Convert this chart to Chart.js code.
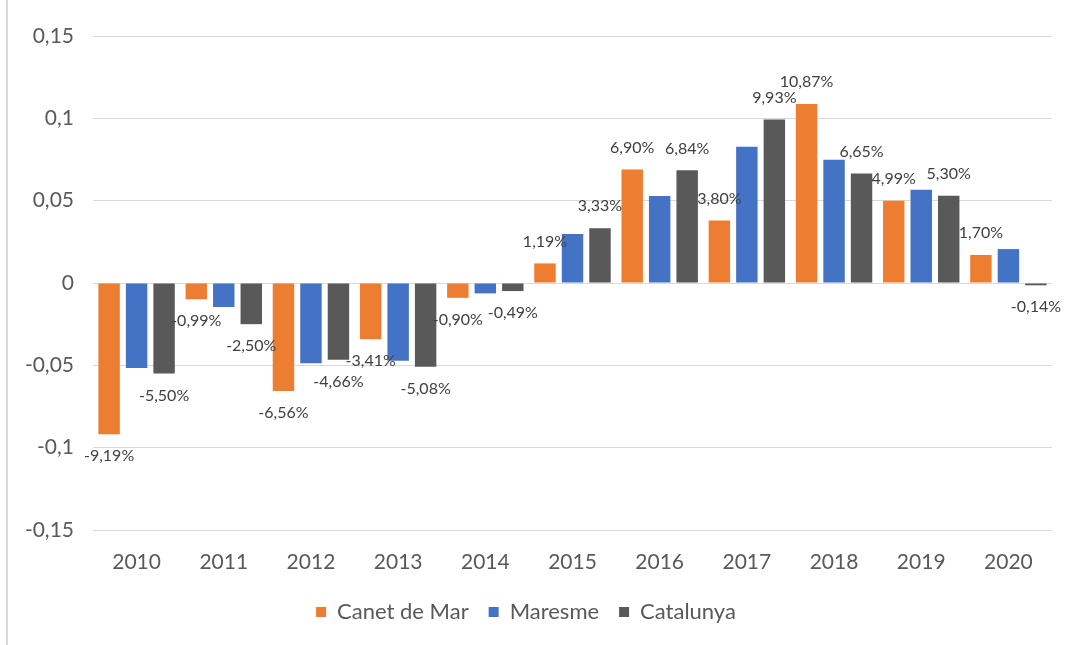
<!DOCTYPE html>
<html>
<head>
<meta charset="utf-8">
<script src="https://cdn.jsdelivr.net/npm/chart.js@4.4.1/dist/chart.umd.min.js"></script>
<style>
  html, body { margin: 0; padding: 0; background: #fff; }
  #wrap { position: relative; width: 1067px; height: 645px; }
  #edge { position: absolute; left: 6px; top: 0; width: 2px; height: 645px; background: #d9d9d9; }
  canvas { position: absolute; left: 0; top: 0; }
</style>
</head>
<body>
<div id="wrap">
  <canvas id="chart" width="1067" height="645"></canvas>
  <div id="edge"></div>
</div>
<script>
// --- data ---
const years = ['2010', '2011', '2012', '2013', '2014', '2015', '2016', '2017', '2018', '2019', '2020'];
const canet = [-0.0919, -0.0099, -0.0656, -0.0341, -0.0090, 0.0119, 0.0690, 0.0380, 0.1087, 0.0499, 0.0170];
const maresme = [-0.0516, -0.0146, -0.0488, -0.0472, -0.0063, 0.0298, 0.0529, 0.0827, 0.0749, 0.0567, 0.0206];
const catalunya = [-0.0550, -0.0250, -0.0466, -0.0508, -0.0049, 0.0333, 0.0684, 0.0993, 0.0665, 0.0530, -0.0014];
const seriesNames = ['Canet de Mar', 'Maresme', 'Catalunya'];
const labelledSeries = [0, 2]; // only these carry value labels

const FONT = 'Lato, "Open Sans", sans-serif';
const TEXT = '#595959';

function fmtPct(v) {
  return (v * 100).toFixed(2).replace('.', ',') + '%';
}

// simple value-label plugin (no datalabels lib available)
const valueLabels = {
  id: 'valueLabels',
  afterDatasetsDraw(chart) {
    const ctx = chart.ctx;
    ctx.save();
    ctx.font = '16px ' + FONT;
    ctx.fillStyle = '#404040';
    ctx.textAlign = 'center';
    ctx.textBaseline = 'middle';
    labelledSeries.forEach(di => {
      const meta = chart.getDatasetMeta(di);
      const vals = chart.data.datasets[di].data;
      meta.data.forEach((bar, i) => {
        const v = vals[i];
        const y = v >= 0 ? bar.y - 22 : bar.y + 22;
        ctx.fillText(fmtPct(v), bar.x, y);
      });
    });
    ctx.restore();
  }
};

const ctx = document.getElementById('chart').getContext('2d');
new Chart(ctx, {
  type: 'bar',
  data: {
    labels: years,
    datasets: [
      { label: seriesNames[0], data: canet, backgroundColor: '#ED7D31' },
      { label: seriesNames[1], data: maresme, backgroundColor: '#4472C4' },
      { label: seriesNames[2], data: catalunya, backgroundColor: '#595959' }
    ]
  },
  options: {
    responsive: false,
    animation: false,
    layout: { padding: { top: 36, right: 15, left: 0, bottom: 12 } },
    datasets: { bar: { categoryPercentage: 0.946, barPercentage: 0.78 } },
    scales: {
      x: {
        grid: { display: false },
        border: { display: false },
        ticks: { color: TEXT, font: { family: FONT, size: 21 }, padding: 12, maxRotation: 0 },
        afterFit(s) { s.height = 51; }
      },
      y: {
        min: -0.15,
        max: 0.15,
        grid: { color: '#d9d9d9', drawTicks: false },
        border: { display: false },
        ticks: {
          stepSize: 0.05,
          color: TEXT,
          font: { family: FONT, size: 21 },
          padding: 19,
          callback: v => String(Number(v.toFixed(2))).replace('.', ',')
        },
        afterFit(s) { s.width = 93; }
      }
    },
    plugins: {
      tooltip: { enabled: false },
      legend: {
        position: 'bottom',
        labels: {
          color: TEXT,
          font: { family: FONT, size: 22 },
          boxWidth: 10,
          boxHeight: 10,
          padding: 20
        }
      }
    }
  },
  plugins: [valueLabels]
});
</script>
</body>
</html>
